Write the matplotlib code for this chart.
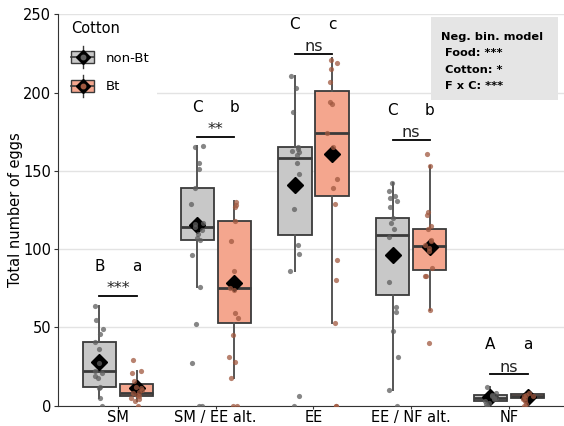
"""Egg counts per food treatment, non-Bt vs Bt cotton -> out.png."""
import numpy as np
import matplotlib
matplotlib.use("Agg")
import matplotlib.pyplot as plt
from matplotlib.legend_handler import HandlerBase
from matplotlib.lines import Line2D
from matplotlib.patches import Patch, Rectangle

FOODS = ["SM", "SM / EE alt.", "EE", "EE / NF alt.", "NF"]

# box statistics
NONBT_Q1 = [12, 106, 109, 71, 3]
NONBT_MED = [22, 114, 158, 109, 5]
NONBT_Q3 = [41, 139, 165, 120, 7]
NONBT_LO = [5, 76, 86, 10, 1]
NONBT_HI = [64, 166, 211, 142, 12]
NONBT_MEAN = [27.7, 115.5, 141.3, 96.4, 5.8]

BT_Q1 = [6, 53, 134, 87, 4.7]
BT_MED = [8, 75, 174, 102, 6]
BT_Q3 = [14, 118, 201, 113, 7.3]
BT_LO = [3, 18, 53, 61, 2]
BT_HI = [22, 131, 222, 153, 8]
BT_MEAN = [11.1, 78.7, 160.9, 101.3, 5.4]

# individual replicates (jittered points)
NONBT_PTS = [
    [64, 55, 49, 46, 41, 36, 27, 22, 21, 19, 18, 12, 11, 5, 0],
    [166, 165, 155, 151, 139, 129, 117, 116, 114, 112, 110, 107, 106, 96, 76, 52, 27, 0, 0],
    [211, 203, 188, 165, 164, 163, 162, 160, 155, 148, 126, 103, 97, 86, 6, 0],
    [142, 137, 134, 133, 131, 127, 120, 117, 113, 108, 79, 63, 60, 48, 31, 10, 0],
    [12, 8, 7, 6, 5, 5, 4, 3, 2, 1, 0],
]
BT_PTS = [
    [29, 22, 21, 16, 12, 11, 10, 9, 8, 7, 6, 5, 4, 3, 0],
    [130, 128, 127, 118, 105, 86, 75, 74, 59, 56, 45, 31, 28, 18, 0, 0],
    [221, 219, 215, 207, 194, 193, 174, 165, 145, 139, 129, 93, 80, 53, 0, 0],
    [161, 153, 124, 122, 115, 113, 106, 105, 103, 101, 99, 88, 83, 83, 61, 40],
    [8, 7, 6, 6, 5, 4, 3, 1, 0],
]

# pairwise tests and compact letter display
SIG_LABELS = ["***", "**", "ns", "ns", "ns"]
SIG_Y = [70, 172, 225, 170, 20]
LETTERS_NONBT = ["B", "C", "C", "C", "A"]
LETTERS_BT = ["a", "b", "c", "b", "a"]

MODEL_LINES = ["Neg. bin. model", "Food: ***", "Cotton: *", "F x C: ***"]

GREY = "#c8c8c8"
SALMON = "#f4a68e"
EDGE = "#3a3a3a"
PT_GREY = "#5e5e5e"
PT_BROWN = "#a0583f"
OFF = 0.19
WIDTH = 0.34


class BoxKey(HandlerBase):
    """Legend key drawn like a mini boxplot with mean diamond."""

    def __init__(self, dot):
        super().__init__()
        self.dot = dot

    def create_artists(self, legend, orig_handle, xdescent, ydescent,
                       width, height, fontsize, trans):
        fc = orig_handle.get_facecolor()
        x0, y0 = -xdescent, -ydescent
        cx, cy = x0 + width / 2, y0 + height / 2
        whisk = Line2D([cx, cx], [y0 - 0.3 * height, y0 + 1.3 * height],
                       color=EDGE, lw=1)
        box = Rectangle((x0, y0 + 0.05 * height), width, 0.9 * height,
                        facecolor=fc, edgecolor=EDGE, lw=1)
        med = Line2D([x0, x0 + width], [cy, cy], color=EDGE, lw=1.2)
        dia = Line2D([cx], [cy], marker="D", color="black", ms=7, ls="none")
        dot = Line2D([cx], [cy], marker="o", color=self.dot, ms=3.2, ls="none")
        arts = [whisk, box, med, dia, dot]
        for a in arts:
            a.set_transform(trans)
        return arts


def stats(q1, med, q3, lo, hi, mean):
    return [dict(q1=a, med=b, q3=c, whislo=d, whishi=e, mean=f, fliers=[])
            for a, b, c, d, e, f in zip(q1, med, q3, lo, hi, mean)]


def main():
    plt.rcParams["font.family"] = "DejaVu Sans"
    fig = plt.figure(figsize=(5.64, 4.26), dpi=100)
    ax = fig.add_axes([0.1028, 0.0477, 0.8972, 0.9183])

    x = np.arange(len(FOODS))
    rng = np.random.default_rng(3)
    series = [
        (x - OFF, stats(NONBT_Q1, NONBT_MED, NONBT_Q3, NONBT_LO, NONBT_HI, NONBT_MEAN),
         NONBT_PTS, GREY, PT_GREY),
        (x + OFF, stats(BT_Q1, BT_MED, BT_Q3, BT_LO, BT_HI, BT_MEAN),
         BT_PTS, SALMON, PT_BROWN),
    ]
    for pos, st, pts, fill, pc in series:
        ax.bxp(st, positions=pos, widths=WIDTH, patch_artist=True, showmeans=True,
               showfliers=False, showcaps=False,
               boxprops=dict(facecolor=fill, edgecolor=EDGE, lw=1.3),
               medianprops=dict(color=EDGE, lw=2),
               whiskerprops=dict(color="#555555", lw=1.4),
               meanprops=dict(marker="D", markerfacecolor="black",
                              markeredgecolor="black", markersize=8.5), zorder=2)
        for p, vals in zip(pos, pts):
            jit = rng.uniform(-0.06, 0.06, len(vals))
            ax.scatter(p + jit, vals, s=14, color=pc, alpha=0.75,
                       linewidths=0, zorder=3)

    for i in range(len(FOODS)):
        y = SIG_Y[i]
        ax.plot([x[i] - OFF, x[i] + OFF], [y, y], color="black", lw=1.3)
        ax.text(x[i], y + 1.7, SIG_LABELS[i], ha="center", va="baseline",
                fontsize=11.5, color="#222222")
        ax.text(x[i] - OFF, y + 16, LETTERS_NONBT[i], ha="center", va="baseline",
                fontsize=11)
        ax.text(x[i] + OFF, y + 16, LETTERS_BT[i], ha="center", va="baseline",
                fontsize=11)

    # model summary box
    ax.add_patch(Rectangle((0.737, 0.7814), 0.251, 0.2122,
                           transform=ax.transAxes, facecolor="#e5e5e5",
                           edgecolor="none", zorder=4))
    for k, line in enumerate(MODEL_LINES):
        xt = 0.757 if k == 0 else 0.765
        ax.text(xt, 0.9433 - k * 0.042, line, transform=ax.transAxes,
                fontsize=8.2, fontweight="bold", va="center", zorder=5)

    # white patch behind the legend hides the 200 grid line, not the 250 one
    ax.add_patch(Rectangle((0, 0.776), 0.196, 0.219, transform=ax.transAxes,
                           facecolor="white", edgecolor="none", zorder=1))
    handles = [Patch(facecolor=GREY), Patch(facecolor=SALMON)]
    ax.legend(handles, ["non-Bt", "Bt"], title="Cotton", loc="upper left",
              bbox_to_anchor=(0.0, 1.018),
              handler_map={handles[0]: BoxKey(PT_GREY),
                           handles[1]: BoxKey(PT_BROWN)},
              fontsize=9.5, title_fontsize=10.5, alignment="left",
              frameon=False, handlelength=1.75, handleheight=1.25,
              labelspacing=1.1, handletextpad=0.85,
              borderaxespad=0, borderpad=1.0)

    ax.set_xlim(-0.614, 4.563)
    ax.set_ylim(0, 250)
    ax.set_xticks(x)
    ax.set_xticklabels(FOODS)
    ax.set_yticks([0, 50, 100, 150, 200, 250])
    ax.tick_params(labelsize=10.5, colors="#333333", labelcolor="black",
                   length=3, pad=2)
    ax.tick_params(axis="x", length=2, pad=1)
    ax.set_ylabel("Total number of eggs", fontsize=10.5, labelpad=0)
    ax.yaxis.grid(True, color="#e3e3e3", lw=1)
    ax.set_axisbelow(True)
    for s in ("top", "right"):
        ax.spines[s].set_visible(False)
    for s in ("left", "bottom"):
        ax.spines[s].set_color("#333333")

    fig.savefig("out.png", dpi=100)


if __name__ == "__main__":
    main()
